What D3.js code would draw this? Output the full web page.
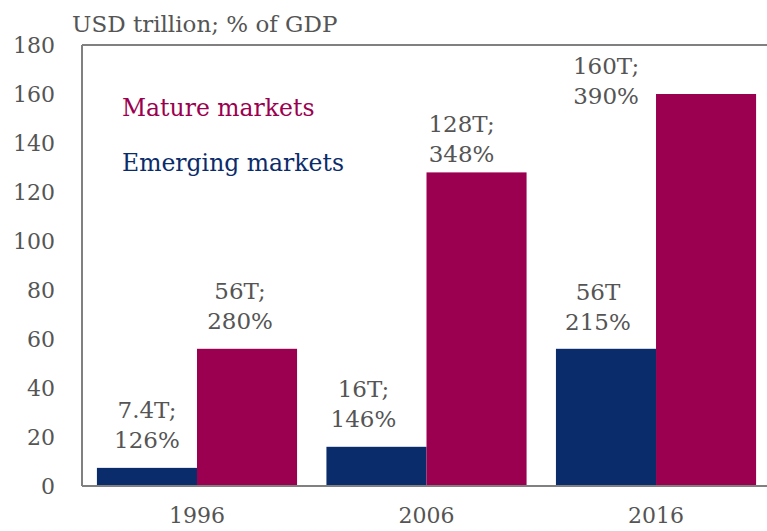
<!DOCTYPE html>
<html>
<head>
<meta charset="utf-8">
<script src="https://cdn.jsdelivr.net/npm/d3@7"></script>
<style>
  body { margin: 0; background: #fff; }
  svg text { font-family: "DejaVu Serif", Georgia, serif; fill: #555; }
</style>
</head>
<body>
<div class="chart"></div>
<script>
'use strict';
var years = ['1996', '2006', '2016'];
var series = ['emerging', 'mature'];
var emerging = [7.4, 16, 56];
var mature = [56, 128, 160];
var emergingLabels = [['7.4T;', '126%'], ['16T;', '146%'], ['56T', '215%']];
var matureLabels = [['56T;', '280%'], ['128T;', '348%'], ['160T;', '390%']];
var yTicks = [0, 20, 40, 60, 80, 100, 120, 140, 160, 180];

// label nudges (layout only)
var emergingNudge = [[0, -20], [-13, -20], [-8, -19]];
var matureNudge = [[-7, -20], [-15, -10], [-100, 10]];

var colors = { emerging: '#0b2c6b', mature: '#9b0050' };
var W = 767, H = 531;
var plot = { left: 82, top: 45, bottom: 486, right: 771 };

var svg = d3.select('.chart').append('svg')
  .attr('width', W)
  .attr('height', H);

var x = d3.scaleBand()
  .domain(years)
  .range([plot.left, plot.right])
  .paddingInner(0.128)
  .paddingOuter(0.065);

var xs = d3.scaleBand()
  .domain(series)
  .range([0, x.bandwidth()]);

var y = d3.scaleLinear()
  .domain([0, 180])
  .range([plot.bottom, plot.top]);

// y axis labels
var yAxis = d3.axisLeft(y)
  .tickValues(yTicks)
  .tickSize(0)
  .tickPadding(27);

var ga = svg.append('g')
  .attr('transform', 'translate(' + plot.left + ',0)')
  .call(yAxis);
ga.select('.domain').remove();
ga.selectAll('text')
  .attr('font-family', '"DejaVu Serif", serif')
  .attr('font-size', 22)
  .style('fill', '#555');

// x labels
var gx = svg.append('g')
  .attr('transform', 'translate(0,' + plot.bottom + ')')
  .call(d3.axisBottom(x).tickSize(0).tickPadding(21));
gx.select('.domain').remove();
gx.selectAll('text')
  .attr('font-family', '"DejaVu Serif", serif')
  .attr('font-size', 22)
  .style('fill', '#555');

// bars
var rows = years.map(function (yr, i) {
  return [
    { year: yr, key: 'emerging', v: emerging[i], lab: emergingLabels[i], nudge: emergingNudge[i] },
    { year: yr, key: 'mature', v: mature[i], lab: matureLabels[i], nudge: matureNudge[i] }
  ];
});
var flat = d3.merge(rows);

svg.selectAll('.bar')
  .data(flat)
  .enter().append('rect')
    .attr('class', 'bar')
    .attr('x', function (d) { return x(d.year) + xs(d.key); })
    .attr('width', xs.bandwidth())
    .attr('y', function (d) { return y(d.v); })
    .attr('height', function (d) { return y(0) - y(d.v); })
    .attr('fill', function (d) { return colors[d.key]; });

// frame
var frame = svg.append('g')
  .attr('stroke', '#808080')
  .attr('stroke-width', 2)
  .attr('fill', 'none');
frame.append('line').attr('x1', plot.left).attr('x2', plot.left).attr('y1', y(180)).attr('y2', y(0));
frame.append('line').attr('x1', plot.left).attr('x2', W).attr('y1', y(180)).attr('y2', y(180));
frame.append('line').attr('x1', plot.left).attr('x2', W).attr('y1', y(0)).attr('y2', y(0));

// value labels
var lab = svg.selectAll('.vlab')
  .data(flat)
  .enter().append('text')
    .attr('class', 'vlab')
    .attr('text-anchor', 'middle')
    .attr('font-size', 23)
    .attr('transform', function (d) {
      var cx = x(d.year) + xs(d.key) + xs.bandwidth() / 2 + d.nudge[0];
      var cy = y(d.v) + d.nudge[1];
      return 'translate(' + cx + ',' + cy + ')';
    });
lab.append('tspan').attr('x', 0).attr('y', -30).text(function (d) { return d.lab[0]; });
lab.append('tspan').attr('x', 0).attr('y', 0).text(function (d) { return d.lab[1]; });

// title
svg.append('text')
  .attr('x', 72)
  .attr('y', 32)
  .attr('font-size', 23)
  .text('USD trillion; % of GDP');

// legend
svg.append('text')
  .attr('x', 122).attr('y', 116)
  .attr('font-size', 23.5)
  .style('fill', colors.mature)
  .text('Mature markets');
svg.append('text')
  .attr('x', 122).attr('y', 171)
  .attr('font-size', 23.5)
  .style('fill', colors.emerging)
  .text('Emerging markets');
</script>
</body>
</html>
